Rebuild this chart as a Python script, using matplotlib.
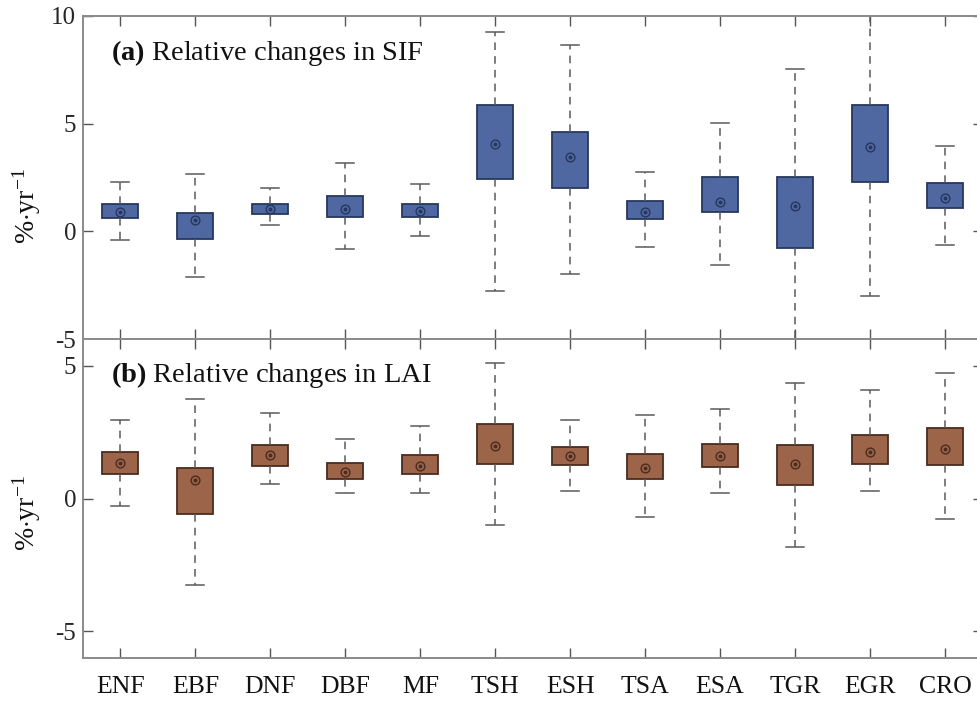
import matplotlib
matplotlib.use("Agg")
import matplotlib.pyplot as plt

# Land-cover classes
classes = ["ENF", "EBF", "DNF", "DBF", "MF", "TSH", "ESH", "TSA", "ESA", "TGR", "EGR", "CRO"]

# Relative trend in SIF (%/yr): whisker ends, quartiles, median
sif_low = [-0.40, -2.14, 0.29, -0.82, -0.23, -2.79, -1.97, -0.74, -1.58, -5.80, -3.02, -0.64]
sif_q1  = [0.60, -0.34, 0.80, 0.66, 0.66, 2.41, 2.00, 0.57, 0.91, -0.79, 2.31, 1.08]
sif_med = [0.91, 0.52, 1.02, 1.04, 0.94, 4.04, 3.47, 0.88, 1.36, 1.18, 3.90, 1.55]
sif_q3  = [1.28, 0.86, 1.28, 1.65, 1.28, 5.87, 4.63, 1.42, 2.54, 2.51, 5.85, 2.23]
sif_high = [2.29, 2.68, 2.00, 3.16, 2.21, 9.27, 8.64, 2.75, 5.03, 7.52, 10.80, 3.96]

# Relative trend in LAI (%/yr)
lai_low = [-0.28, -3.25, 0.55, 0.21, 0.21, -0.98, 0.30, -0.71, 0.21, -1.81, 0.27, -0.78]
lai_q1  = [0.93, -0.60, 1.24, 0.73, 0.92, 1.28, 1.27, 0.73, 1.19, 0.50, 1.28, 1.27]
lai_med = [1.33, 0.69, 1.62, 0.99, 1.24, 1.99, 1.59, 1.16, 1.59, 1.29, 1.76, 1.88]
lai_q3  = [1.74, 1.14, 2.03, 1.33, 1.63, 2.80, 1.94, 1.68, 2.05, 2.01, 2.39, 2.65]
lai_high = [2.97, 3.75, 3.23, 2.25, 2.71, 5.09, 2.95, 3.13, 3.37, 4.33, 4.08, 4.71]

plt.rcParams["font.family"] = ["Liberation Serif", "DejaVu Serif"]
plt.rcParams["mathtext.fontset"] = "custom"
plt.rcParams["mathtext.rm"] = "Liberation Serif"
plt.rcParams["mathtext.bf"] = "Liberation Serif:bold"
plt.rcParams["mathtext.it"] = "Liberation Serif:italic"
plt.rcParams["axes.unicode_minus"] = False

W, H = 978, 706
fig = plt.figure(figsize=(W / 100, H / 100), dpi=100)

left = 83 / W
right = 982.5 / W
ax_top = fig.add_axes([left, 1 - 339 / H, right - left, (339 - 16) / H])
ax_bot = fig.add_axes([left, 1 - 658 / H, right - left, (658 - 339) / H])

spine_col = "#8a8a8a"
pos = list(range(1, len(classes) + 1))


def draw_panel(ax, low, q1, med, q3, high, face, edge, title, ylim, yticks):
    stats = []
    for i in range(len(classes)):
        stats.append(dict(whislo=low[i], q1=q1[i], med=med[i], q3=q3[i],
                          whishi=high[i], fliers=[]))
    ax.bxp(stats, positions=pos, widths=0.48, capwidths=0.24,
           patch_artist=True, showfliers=False,
           boxprops=dict(facecolor=face, edgecolor=edge, linewidth=1.3),
           whiskerprops=dict(color="#5a5a5a", linewidth=1.1,
                             linestyle=(0, (5, 4))),
           capprops=dict(color="#5a5a5a", linewidth=1.1),
           medianprops=dict(linestyle="none"))
    ax.plot(pos, med, linestyle="none", marker="o", markersize=6.3,
            markerfacecolor="none", markeredgecolor=edge, markeredgewidth=1.0,
            zorder=5)
    ax.plot(pos, med, linestyle="none", marker="o", markersize=1.8,
            markerfacecolor=edge, markeredgecolor=edge, zorder=5)
    ax.set_xlim(0.5, 12.5)
    ax.set_ylim(*ylim)
    ax.set_yticks(yticks)
    ax.set_yticklabels([str(t) for t in yticks])
    ax.set_xticks(pos)
    for s in ax.spines.values():
        s.set_color(spine_col)
        s.set_linewidth(1.4)
    ax.tick_params(axis="both", direction="in", length=7, width=1.0,
                   color="#555555", top=True, right=True)
    ax.tick_params(axis="y", labelsize=18, pad=5, labelcolor="#262626")
    ax.text(0.031, 0.864, title, transform=ax.transAxes, fontsize=20.5,
            ha="left", va="baseline", color="#111111")


draw_panel(ax_top, sif_low, sif_q1, sif_med, sif_q3, sif_high,
           "#5068a2", "#26375e",
           r"$\mathbf{(a)}$ Relative changes in SIF", (-5, 10), [-5, 0, 5, 10])
draw_panel(ax_bot, lai_low, lai_q1, lai_med, lai_q3, lai_high,
           "#9c6448", "#4a2c20",
           r"$\mathbf{(b)}$ Relative changes in LAI", (-6, 6), [-5, 0, 5])

ax_top.tick_params(axis="x", labelbottom=False)
ax_bot.set_xticklabels(classes)
ax_bot.tick_params(axis="x", labelsize=18.5, pad=13, labelcolor="#111111")

ylab = r"%$\cdot$yr$^{-1}$"
fig.text(27 / W, 1 - 206 / H, ylab, rotation=90, ha="center", va="center",
         fontsize=20, color="#111111")
fig.text(27 / W, 1 - 513 / H, ylab, rotation=90, ha="center", va="center",
         fontsize=20, color="#111111")

fig.savefig("out.png", dpi=100)
